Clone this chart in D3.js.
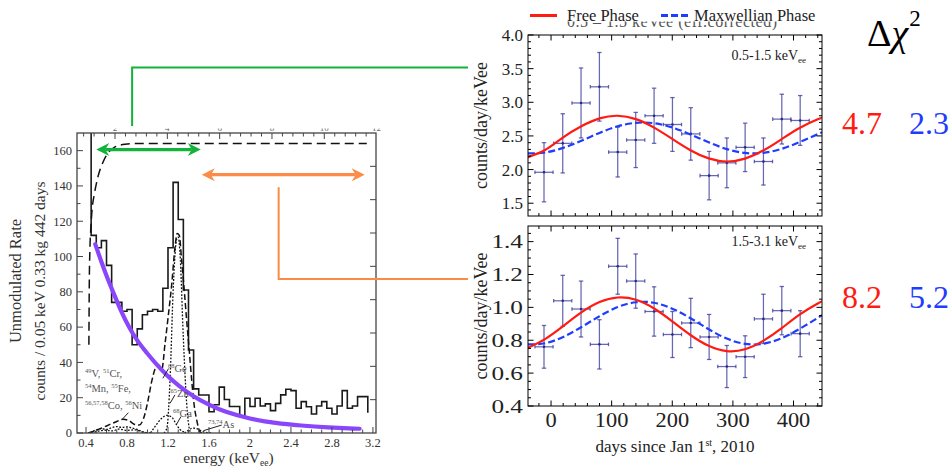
<!DOCTYPE html>
<html>
<head>
<meta charset="utf-8">
<script src="https://cdn.jsdelivr.net/npm/d3@7"></script>
<style>
  body { margin: 0; background: #fff; }
  svg { display: block; }
  text { font-family: "Liberation Serif", "Times New Roman", serif; }
</style>
</head>
<body>
<svg id="chart" width="951" height="467"></svg>
<script>
// ---------- left: unmodulated spectrum ----------
const binStart = 0.45, binWidth = 0.05;
const spectrumCounts = [112, 105, 109, 95, 74, 74, 69, 70, 50, 59, 67, 69, 70, 69, 82, 105, 142, 121, 81, 47,
  25, 21.5, 21.5, 12, 16, 26, 19, 15, 15, 9.6, 19.7, 15, 19.7, 15.3, 16.5, 12.7, 16.8, 21.6, 24.8, 24,
  14, 17.8, 14.9, 10.8, 15.3, 17.8, 14, 10.8, 15.3, 24, 14, 15.3, 20.6, 20.6];
const spectrumTail = 11.5;
const efficiencyCurve = [[0.428, 50], [0.432, 85], [0.438, 104], [0.447, 116], [0.46, 127], [0.48, 135], [0.5, 141],
  [0.52, 146], [0.57, 154], [0.62, 159], [0.68, 162], [0.78, 163.6], [0.9, 164], [3.14, 164]];
const lShellSum = [[0.42, 0], [0.5, 1.5], [0.6, 4], [0.7, 6.5], [0.76, 7.8], [0.82, 7], [0.87, 5], [0.92, 4.5],
  [0.96, 8], [1.0, 17], [1.04, 29], [1.08, 37], [1.11, 38.5], [1.14, 36], [1.17, 50], [1.2, 65], [1.236, 84],
  [1.268, 105], [1.29, 113], [1.31, 112], [1.333, 98], [1.36, 80], [1.382, 64], [1.41, 45], [1.431, 30],
  [1.455, 16], [1.48, 7.4], [1.512, 0.7], [1.53, 0]];
const germaniumPeak = [[1.16, 0], [1.19, 3], [1.22, 30], [1.252, 83], [1.285, 110], [1.3, 111], [1.317, 102],
  [1.349, 55], [1.382, 17], [1.415, 1], [1.43, 0]];
const galliumPeak = [[1.03, 0], [1.073, 3.6], [1.138, 8.3], [1.187, 10], [1.236, 9], [1.285, 4.5], [1.317, 2], [1.36, 0.5]];
const lowPeaksA = [[0.44, 0], [0.5, 1.8], [0.55, 2.5], [0.6, 2], [0.65, 3], [0.7, 3.6], [0.75, 3.2], [0.8, 3.5],
  [0.85, 2.8], [0.9, 2], [0.95, 0.8], [1.0, 0.2], [1.05, 0]];
const lowPeaksB = [[0.45, 0], [0.52, 1], [0.58, 1.6], [0.66, 1.2], [0.72, 2.2], [0.8, 1.5], [0.88, 1.8], [0.95, 0.5], [1.0, 0]];
const arsenicPeak = [[1.36, 0], [1.4, 1.5], [1.44, 2.8], [1.48, 2.5], [1.53, 1], [1.58, 0.2], [1.62, 0]];
const backgroundFit = [[0.49, 107], [0.55, 97], [0.6, 89], [0.67, 79], [0.75, 68], [0.81, 61], [0.9, 52], [1.0, 45],
  [1.07, 40], [1.2, 32], [1.3, 27], [1.45, 20.5], [1.6, 16], [1.75, 12], [2.0, 8], [2.25, 5.5], [2.5, 4.2],
  [2.75, 3.2], [3.07, 2.4]];
const energyTicks = [0.4, 0.8, 1.2, 1.6, 2, 2.4, 2.8, 3.2];
const countTicks = [0, 20, 40, 60, 80, 100, 120, 140, 160];
const nrTicks = [2, 4, 6, 8, 10, 12];
const effTicks = [0.1, 0.2, 0.3, 0.4, 0.5, 0.6, 0.7, 0.8];
const isotopeNotes = [
  {x: 0.39, y: 31.8, parts: [["49", 1], ["V, ", 0], ["51", 1], ["Cr,", 0]]},
  {x: 0.39, y: 23.3, parts: [["54", 1], ["Mn, ", 0], ["55", 1], ["Fe,", 0]]},
  {x: 0.39, y: 13.8, parts: [["56,57,58", 1], ["Co, ", 0], ["56", 1], ["Ni", 0]]},
  {x: 1.2, y: 34.8, parts: [["68", 1], ["Ge", 0]]},
  {x: 1.225, y: 20.6, parts: [["65", 1], ["Zn", 0]]},
  {x: 1.25, y: 8.9, parts: [["68", 1], ["Ga", 0]]},
  {x: 1.59, y: 3.0, parts: [["73,74", 1], ["As", 0]]}
];
const leaderLines = [
  [[1.205, 36.5], [1.15, 31]], [[1.268, 21.6], [1.22, 16.8]], [[1.327, 9.3], [1.285, 5.1]],
  [[1.724, 4.5], [1.545, 1.3]], [[0.813, 11.5], [0.748, 7.4]]
];
const greenRange = [0.5, 1.52], greenLevel = 160.6;
const orangeRange = [1.53, 3.12], orangeLevel = 146.4;

// ---------- right: modulation ----------
const binDays = [-11.6, 19.3, 49.5, 79.8, 110, 139.7, 170, 200.3, 230.5, 260.8, 290, 320.2, 350.4, 380.7, 411];
const dayHalfWidth = 15;
const lowRate = [1.96, 2.39, 2.99, 3.23, 2.26, 2.44, 2.80, 2.67, 2.53, 1.91, 2.10, 2.33, 2.12, 2.75, 2.73];
const lowErr = [0.44, 0.44, 0.52, 0.51, 0.37, 0.41, 0.41, 0.40, 0.39, 0.36, 0.37, 0.36, 0.35, 0.37, 0.37];
const highRate = [0.76, 1.04, 0.99, 0.775, 1.25, 1.16, 0.975, 0.835, 0.905, 0.82, 0.64, 0.70, 0.93, 0.98, 0.84];
const highErr = [0.13, 0.155, 0.17, 0.15, 0.17, 0.165, 0.15, 0.14, 0.15, 0.137, 0.128, 0.127, 0.15, 0.147, 0.14];
const curveDays = [-38, -10, 20, 50, 80, 110, 140, 170, 200, 230, 260, 290, 320, 350, 380, 410, 440, 447];
const lowFree = [2.185, 2.29, 2.479, 2.644, 2.761, 2.80, 2.750, 2.624, 2.456, 2.288, 2.166, 2.12, 2.163, 2.283, 2.450, 2.619, 2.747, 2.767];
const lowMaxwell = [2.242, 2.254, 2.322, 2.428, 2.545, 2.643, 2.695, 2.689, 2.626, 2.522, 2.405, 2.304, 2.247, 2.248, 2.307, 2.409, 2.526, 2.552];
const highFree = [0.754, 0.807, 0.886, 0.969, 1.032, 1.060, 1.046, 0.993, 0.915, 0.832, 0.766, 0.734, 0.745, 0.796, 0.872, 0.956, 1.024, 1.035];
const highMaxwell = [0.775, 0.782, 0.820, 0.880, 0.946, 1.002, 1.031, 1.028, 0.992, 0.934, 0.867, 0.810, 0.778, 0.779, 0.812, 0.869, 0.936, 0.951];
const dayTicks = [0, 100, 200, 300, 400];
const lowTicks = [1.5, 2.0, 2.5, 3.0, 3.5, 4.0];
const highTicks = [0.4, 0.6, 0.8, 1.0, 1.2, 1.4];
const deltaChi = [["4.7", "2.3"], ["8.2", "5.2"]];

const RED = "#ff1a12", BLUE = "#1f3cff", GREEN = "#13b23a", ORANGE = "#fb8b47", PURPLE = "#8a46fb";
const SERIF = "'Liberation Serif', 'Times New Roman', serif";

const svg = d3.select("#chart").attr("font-family", SERIF);
svg.append("rect").attr("width", 951).attr("height", 467).attr("fill", "#fff");
const defs = svg.append("defs");

function minorValues(a, b, step, majors) {
  return d3.range(Math.round((b - a) / step) + 1).map(i => +(a + i * step).toFixed(4))
    .filter(v => !majors.some(m => Math.abs(m - v) < 1e-6));
}
function drawSegs(g, segs, color, w) {
  g.append("g").selectAll("line").data(segs).join("line")
    .attr("x1", d => d[0]).attr("y1", d => d[1]).attr("x2", d => d[2]).attr("y2", d => d[3])
    .attr("stroke", color).attr("stroke-width", w);
}
const vSegs = (sx, vals, yPos, len) => vals.map(v => [sx(v), yPos, sx(v), yPos + len]);
const hSegs = (sy, vals, xPos, len) => vals.map(v => [xPos, sy(v), xPos + len, sy(v)]);

// ======== LEFT PANEL ========
const xE = d3.scaleLinear().domain([0.312, 3.23]).range([77, 376]);
const yE = d3.scaleLinear().domain([0, 170]).range([433, 133]);
const xNr = d3.scaleLinear().domain([2, 12]).range([xE(0.683), xE(3.236)]);
const yEff = d3.scaleLinear().domain([0, 0.9]).range(yE.range());
const [L0, L1] = xE.range(), [B0, T0] = yE.range();

defs.append("clipPath").attr("id", "clipL").append("rect")
  .attr("x", L0).attr("y", T0).attr("width", L1 - L0).attr("height", B0 - T0);
defs.append("clipPath").attr("id", "clipNr").append("rect")
  .attr("x", L0 - 20).attr("y", T0 - 4.5).attr("width", L1 - L0 + 40).attr("height", 4);

const gL = svg.append("g");
const inner = gL.append("g").attr("clip-path", "url(#clipL)");

const ptLine = d3.line().x(d => xE(d[0])).y(d => yE(d[1]));
const smooth = d3.line().x(d => xE(d[0])).y(d => yE(d[1])).curve(d3.curveMonotoneX);

// histogram
const histPts = [[binStart, yE.domain()[1]]];
spectrumCounts.forEach((c, i) => {
  const a = binStart + i * binWidth;
  histPts.push([a, c], [a + binWidth, c]);
});
histPts.push([binStart + spectrumCounts.length * binWidth, spectrumTail]);
inner.append("path").attr("d", ptLine(histPts)).attr("fill", "none")
  .attr("stroke", "#1a1a1a").attr("stroke-width", 1.6);

// component curves
const comp = (data, dash, w) => inner.append("path").attr("d", smooth(data)).attr("fill", "none")
  .attr("stroke", "#111").attr("stroke-width", w).attr("stroke-dasharray", dash);
comp(efficiencyCurve, "9,5", 1.5);
comp(lShellSum, "6,3", 1.5);
comp(germaniumPeak, "1.8,1.6", 1.3);
comp(galliumPeak, "1.8,1.6", 1.3);
comp(lowPeaksA, "1.8,1.6", 1.3);
comp(lowPeaksB, "1.8,1.6", 1.3);
comp(arsenicPeak, "1.8,1.6", 1.3);

// isotope notes
isotopeNotes.forEach(n => {
  const t = gL.append("text").attr("x", xE(n.x)).attr("y", yE(n.y))
    .attr("font-size", 10.5).attr("fill", "#555");
  let raised = false;
  n.parts.forEach(p => {
    const sup = !!p[1];
    const dy = sup ? (raised ? 0 : -4) : (raised ? 4 : 0);
    raised = sup;
    t.append("tspan").text(p[0]).attr("font-size", sup ? 6.5 : 10.5).attr("dy", dy);
  });
});
drawSegs(gL, leaderLines.map(l => [xE(l[0][0]), yE(l[0][1]), xE(l[1][0]), yE(l[1][1])]), "#222", 1);

// purple fit
inner.append("path").attr("d", d3.line().x(d => xE(d[0])).y(d => yE(d[1])).curve(d3.curveBasis)(backgroundFit))
  .attr("fill", "none").attr("stroke", PURPLE).attr("stroke-width", 4.2).attr("stroke-linecap", "round");

// frame + ticks
gL.append("rect").attr("x", L0).attr("y", T0).attr("width", L1 - L0).attr("height", B0 - T0)
  .attr("fill", "none").attr("stroke", "#444").attr("stroke-width", 1.3);
const eMinor = minorValues(0.4, 3.2, 0.1, energyTicks);
const cMinor = minorValues(0, 160, 10, countTicks);
const nrMinor = minorValues(0.8, 12, 0.4, nrTicks).filter(v => xNr(v) > L0 + 1 && xNr(v) < L1 - 1);
drawSegs(gL, [
  ...vSegs(xE, energyTicks, B0, -6), ...vSegs(xE, eMinor, B0, -3.5),
  ...vSegs(xNr, nrTicks.filter(v => xNr(v) < L1 - 1), T0, 6), ...vSegs(xNr, nrMinor, T0, 3.5),
  ...hSegs(yE, countTicks, L0, 6), ...hSegs(yE, cMinor, L0, 3.5),
  ...hSegs(yEff, effTicks, L1, -6)
], "#444", 1);

gL.append("g").selectAll("text").data(energyTicks).join("text")
  .attr("x", d => xE(d)).attr("y", B0 + 14).attr("text-anchor", "middle")
  .attr("font-size", 12.5).attr("fill", "#333").text(d => String(d));
gL.append("g").selectAll("text").data(countTicks).join("text")
  .attr("x", L0 - 5).attr("y", d => yE(d) + 4.3).attr("text-anchor", "end")
  .attr("font-size", 12.5).attr("fill", "#333").text(d => String(d));
gL.append("g").attr("clip-path", "url(#clipNr)").selectAll("text").data(nrTicks).join("text")
  .attr("x", d => xNr(d)).attr("y", T0 - 2).attr("text-anchor", "middle")
  .attr("font-size", 9).attr("fill", "#666").text(d => String(d));

const xt = gL.append("text").attr("x", (L0 + L1) / 2 + 2).attr("y", 462.5).attr("text-anchor", "middle")
  .attr("font-size", 15.5).attr("fill", "#333");
xt.append("tspan").text("energy (keV");
xt.append("tspan").text("ee").attr("font-size", 9.5).attr("dy", 3);
xt.append("tspan").text(")").attr("dy", -3);
gL.append("text").attr("transform", `translate(21,${(T0 + B0) / 2 - 2}) rotate(-90)`).attr("text-anchor", "middle")
  .attr("font-size", 16.5).attr("fill", "#333").text("Unmodulated Rate");
gL.append("text").attr("transform", `translate(45,${(T0 + B0) / 2 + 8}) rotate(-90)`).attr("text-anchor", "middle")
  .attr("font-size", 15.5).attr("fill", "#333").text("counts / 0.05 keV 0.33 kg 442 days");

// double arrows
function doubleArrow(xa, xb, y, color) {
  const L = 13, Hh = 6.5, n = 4;
  svg.append("line").attr("x1", xa + L - n).attr("x2", xb - L + n).attr("y1", y).attr("y2", y)
    .attr("stroke", color).attr("stroke-width", 3.2);
  const head = (tip, dir) => `M${tip},${y}L${tip + dir * L},${y - Hh}L${tip + dir * (L - n)},${y}L${tip + dir * L},${y + Hh}Z`;
  svg.append("path").attr("d", head(xa, 1)).attr("fill", color);
  svg.append("path").attr("d", head(xb, -1)).attr("fill", color);
}
doubleArrow(xE(greenRange[0]), xE(greenRange[1]), yE(greenLevel), GREEN);
doubleArrow(xE(orangeRange[0]), xE(orangeRange[1]), yE(orangeLevel), ORANGE);

// ======== RIGHT PANELS ========
const xD = d3.scaleLinear().domain([-38, 447]).range([528, 822]);
const [R0, R1] = xD.range();
const dMinor = minorValues(-20, 440, 20, dayTicks);

function panel(cfg) {
  const y = d3.scaleLinear().domain(cfg.domain).range(cfg.range);
  const [yb, yt] = y.range();
  const g = svg.append("g");
  const id = "clip" + cfg.name;
  defs.append("clipPath").attr("id", id).append("rect")
    .attr("x", R0).attr("y", yt).attr("width", R1 - R0).attr("height", yb - yt);
  const body = g.append("g").attr("clip-path", `url(#${id})`);

  // error bars
  const pts = binDays.map((d, i) => ({d, v: cfg.rate[i], e: cfg.err[i]}));
  const bars = [];
  pts.forEach(p => {
    const cx = xD(p.d), cy = y(p.v), lo = y(p.v - p.e), hi = y(p.v + p.e);
    const xl = xD(p.d - dayHalfWidth), xr = xD(p.d + dayHalfWidth);
    bars.push([cx, lo, cx, hi], [cx - 2.2, lo, cx + 2.2, lo], [cx - 2.2, hi, cx + 2.2, hi],
      [xl, cy, xr, cy], [xl, cy - 1.8, xl, cy + 1.8], [xr, cy - 1.8, xr, cy + 1.8]);
  });
  drawSegs(body, bars, "rgba(45,45,150,0.72)", 1.25);
  body.append("g").selectAll("circle").data(pts).join("circle")
    .attr("cx", p => xD(p.d)).attr("cy", p => y(p.v)).attr("r", 1.3).attr("fill", "#2a2a85");

  const fit = d3.line().x((d, i) => xD(curveDays[i])).y(d => y(d)).curve(d3.curveNatural);
  body.append("path").attr("d", fit(cfg.maxwell)).attr("fill", "none").attr("stroke", BLUE)
    .attr("stroke-width", 2.2).attr("stroke-dasharray", "7,3.2");
  body.append("path").attr("d", fit(cfg.free)).attr("fill", "none").attr("stroke", RED)
    .attr("stroke-width", 2.2);

  g.append("rect").attr("x", R0).attr("y", yt).attr("width", R1 - R0).attr("height", yb - yt)
    .attr("fill", "none").attr("stroke", "#000").attr("stroke-width", 1);
  const yMinor = minorValues(cfg.minorFrom, cfg.minorTo, cfg.minorStep, cfg.ticks);
  drawSegs(g, [
    ...vSegs(xD, dayTicks, yb, -5.5), ...vSegs(xD, dMinor, yb, -3),
    ...vSegs(xD, dayTicks, yt, 5.5), ...vSegs(xD, dMinor, yt, 3),
    ...hSegs(y, cfg.ticks, R0, 5.5), ...hSegs(y, yMinor, R0, 3),
    ...hSegs(y, cfg.ticks, R1, -5.5), ...hSegs(y, yMinor, R1, -3)
  ], "#000", 1);

  g.append("g").selectAll("text").data(cfg.ticks).join("text")
    .attr("transform", d => `translate(${R0 - 5},${y(d)}) scale(${cfg.tickStretch},1)`)
    .attr("dy", "0.35em").attr("text-anchor", "end")
    .attr("font-size", cfg.tickFont).attr("fill", "#222").text(d => d3.format(".1f")(d));
  g.append("text").attr("transform", `translate(${R0 - 41},${(yb + yt) / 2}) rotate(-90)`)
    .attr("text-anchor", "middle").attr("font-size", 18).attr("fill", "#222").text("counts/day/keVee");

  const lab = g.append("text").attr("x", R1 - 16).attr("y", yt + cfg.labelDy).attr("text-anchor", "end")
    .attr("font-size", 14).attr("fill", "#222");
  lab.append("tspan").text(cfg.label);
  lab.append("tspan").text("ee").attr("font-size", 9).attr("dy", 3);

  const chiY = (yb + yt) / 2 + cfg.chiDy;
  g.append("text").attr("x", 842).attr("y", chiY).attr("font-size", 32).attr("fill", RED).text(cfg.chi[0]);
  g.append("text").attr("x", 909).attr("y", chiY).attr("font-size", 32).attr("fill", BLUE).text(cfg.chi[1]);
  return {g, y};
}

panel({name: "low", domain: [1.31, 4.0], range: [216, 35], rate: lowRate, err: lowErr,
  free: lowFree, maxwell: lowMaxwell, ticks: lowTicks, minorFrom: 1.4, minorTo: 3.9, minorStep: 0.1,
  tickFont: 17, tickStretch: 1, label: "0.5-1.5 keV", labelDy: 25, chi: deltaChi[0], chiDy: 8});
panel({name: "high", domain: [0.4, 1.495], range: [406, 226], rate: highRate, err: highErr,
  free: highFree, maxwell: highMaxwell, ticks: highTicks, minorFrom: 0.45, minorTo: 1.45, minorStep: 0.05,
  tickFont: 19, tickStretch: 1.33, label: "1.5-3.1 keV", labelDy: 20, chi: deltaChi[1], chiDy: -8});

// bottom x axis labels
svg.append("g").selectAll("text").data(dayTicks).join("text")
  .attr("transform", d => `translate(${xD(d)},427) scale(1.12,1)`).attr("text-anchor", "middle")
  .attr("font-size", 20).attr("fill", "#222").text(d => d);
const dt = svg.append("text").attr("x", (R0 + R1) / 2).attr("y", 452).attr("text-anchor", "middle")
  .attr("font-size", 17).attr("fill", "#222");
dt.append("tspan").text("days since Jan 1");
dt.append("tspan").text("st").attr("font-size", 10).attr("dy", -6);
dt.append("tspan").text(", 2010").attr("dy", 6);

// ghost title peeking under the legend
defs.append("clipPath").attr("id", "clipGhost").append("rect")
  .attr("x", R0).attr("y", 21.5).attr("width", R1 - R0).attr("height", 9);
svg.append("text").attr("clip-path", "url(#clipGhost)").attr("x", 567).attr("y", 27)
  .attr("font-size", 16).attr("fill", "#555").attr("textLength", 210)
  .text("0.5 \u2013 1.5 keVee (eff.corrected)");

// legend
const lg = svg.append("g").attr("font-size", 16.5).attr("fill", "#222");
lg.append("line").attr("x1", 530).attr("x2", 557).attr("y1", 15.5).attr("y2", 15.5)
  .attr("stroke", RED).attr("stroke-width", 3);
lg.append("text").attr("x", 567).attr("y", 21).text("Free Phase");
lg.append("line").attr("x1", 661).attr("x2", 688).attr("y1", 15.5).attr("y2", 15.5)
  .attr("stroke", BLUE).attr("stroke-width", 3).attr("stroke-dasharray", "7,3");
lg.append("text").attr("x", 694).attr("y", 21).text("Maxwellian Phase");

// delta chi^2 header
const dc = svg.append("text").attr("x", 867).attr("y", 46).attr("font-size", 38).attr("fill", "#000");
dc.append("tspan").text("\u0394");
dc.append("tspan").text("\u03c7").attr("font-style", "italic");
dc.append("tspan").text("2").attr("font-size", 23).attr("dy", -20).attr("dx", 1);

// connector lines from the spectrum to the panels
const conn = d3.line();
svg.append("path").attr("d", conn([[xE(0.85), yE(174)], [xE(0.85), 67.5], [468, 67.5]]))
  .attr("fill", "none").attr("stroke", GREEN).attr("stroke-width", 2);
svg.append("path").attr("d", conn([[xE(2.28), yE(139.2)], [xE(2.28), yE(87.2)], [468, yE(87.2)]]))
  .attr("fill", "none").attr("stroke", ORANGE).attr("stroke-width", 2);
</script>
</body>
</html>
